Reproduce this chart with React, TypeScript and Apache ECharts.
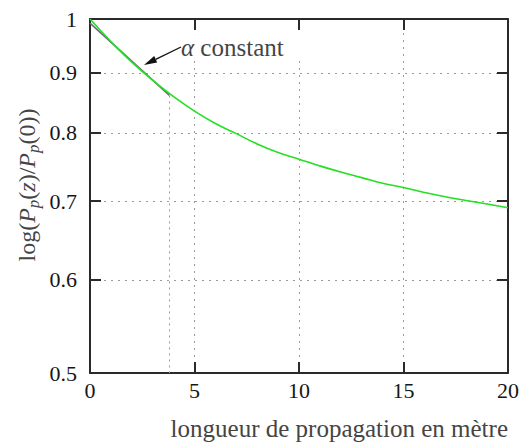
import React, { useEffect, useRef } from 'react';
import * as echarts from 'echarts';

// ---- data ----
const distance = [0, 1, 2, 3, 4, 5, 6, 7, 8, 9, 10, 11, 12, 13, 14, 15, 16, 17, 18, 19, 20];
const powerRatio = [1.0, 0.957, 0.919, 0.887, 0.859, 0.835, 0.815, 0.799, 0.783, 0.77, 0.76, 0.75, 0.741, 0.733, 0.725, 0.719, 0.712, 0.706, 0.701, 0.696, 0.691];
const alphaConstDistance = [0, 3.8];
const alphaConstRatio = [0.992, 0.861];
const yTickValues = [0.5, 0.6, 0.7, 0.8, 0.9, 1];
const xTickValues = [0, 5, 10, 15, 20];
const annotationLabel = '{a|α}{n| constant}';
const xAxisTitle = '{n|longueur de propagation en mètre}';
const yAxisTitle = '{n|log(}{i|P}{s|p}{n|(}{i|z}{n|)/}{i|P}{s|p}{n|(0))}';

const SERIF = 'Liberation Serif';
const FRAME = '#2a2a2a';
const GRID_DOT = '#9a9a9a';
const TEXT_GRAY = '#454545';

export default function App() {
  const ref = useRef<HTMLDivElement>(null);

  useEffect(() => {
    if (!ref.current) return;
    const chart = echarts.init(ref.current, null, { renderer: 'svg' });
    const lnTicks = yTickValues.map((v) => Math.log(v));
    const lnMin = Math.log(yTickValues[0]);
    const lnMax = Math.log(yTickValues[yTickValues.length - 1]);
    const fmtY = (v: number) => String(Math.round(Math.exp(v) * 10) / 10);

    const frameLine = { show: true, onZero: false, lineStyle: { color: FRAME, width: 2 } };
    const frameTick = { show: true, inside: true, length: 11, lineStyle: { color: FRAME, width: 2 } };
    const dotted = { show: true, lineStyle: { color: GRID_DOT, width: 1, type: [2, 5] } };
    const tickFont = { fontFamily: SERIF, fontSize: 22, color: '#161616' };
    const gray = { fontFamily: SERIF, fontSize: 25, fill: TEXT_GRAY };
    const grayY = { fontFamily: SERIF, fontSize: 24, fill: TEXT_GRAY };

    const option: any = {
      animation: false,
      backgroundColor: '#ffffff',
      textStyle: { fontFamily: SERIF },
      grid: { left: 90, top: 19, width: 418, height: 354, containLabel: false, outerBoundsMode: 'none' },
      xAxis: [
        {
          type: 'value', min: 0, max: 20, interval: 5, position: 'bottom',
          axisLine: frameLine,
          axisTick: { ...frameTick, customValues: xTickValues },
          axisLabel: { customValues: xTickValues, margin: 6, ...tickFont },
          splitLine: dotted,
        },
        {
          type: 'value', min: 0, max: 20, interval: 5, position: 'top',
          axisLine: frameLine,
          axisTick: { ...frameTick, customValues: xTickValues },
          axisLabel: { show: false },
          splitLine: { show: false },
        },
      ],
      yAxis: [
        { type: 'log', logBase: 10, min: yTickValues[0], max: yTickValues[yTickValues.length - 1], show: false, splitLine: { show: false } },
        {
          type: 'value', min: lnMin, max: lnMax, position: 'left',
          axisLine: frameLine,
          axisTick: { ...frameTick, customValues: lnTicks },
          axisLabel: { customValues: lnTicks, formatter: fmtY, margin: 13, ...tickFont },
          splitLine: dotted,
        },
        {
          type: 'value', min: lnMin, max: lnMax, position: 'right',
          axisLine: frameLine,
          axisTick: { ...frameTick, customValues: lnTicks },
          axisLabel: { show: false },
          splitLine: { show: false },
        },
      ],
      series: [
        {
          type: 'line', name: 'alpha constant', xAxisIndex: 0, yAxisIndex: 0,
          data: alphaConstDistance.map((x, i) => [x, alphaConstRatio[i]]),
          symbol: 'none', showSymbol: false,
          lineStyle: { color: '#6c6c76', width: 1.6 },
          z: 2, silent: true,
          markLine: {
            silent: true, symbol: ['none', 'none'], label: { show: false },
            lineStyle: { color: GRID_DOT, width: 1, type: [2, 4] },
            data: [[
              { coord: [alphaConstDistance[1], alphaConstRatio[1]] },
              { coord: [alphaConstDistance[1], yTickValues[0]] },
            ]],
          },
        },
        {
          type: 'line', name: 'P(z)/P(0)', xAxisIndex: 0, yAxisIndex: 0,
          data: distance.map((x, i) => [x, powerRatio[i]]),
          smooth: true, symbol: 'none', showSymbol: false,
          lineStyle: { color: '#22e022', width: 1.6 },
          z: 3, silent: true,
        },
      ],
      graphic: [
        { type: 'rect', shape: { x: 184, y: 31, width: 122, height: 30 }, style: { fill: '#ffffff' }, z: 5, silent: true },
        { type: 'line', shape: { x1: 181, y1: 47, x2: 155.7, y2: 59.3 }, style: { stroke: '#111111', lineWidth: 1.3 }, z: 6, silent: true },
        { type: 'polygon', shape: { points: [[144, 65], [157.2, 62.5], [154.2, 56.1]] }, style: { fill: '#111111' }, z: 6, silent: true },
        {
          type: 'text', x: 181, y: 47.5, z: 6, silent: true,
          style: {
            text: annotationLabel, align: 'left', verticalAlign: 'middle', ...gray,
            rich: { a: { ...gray, fontStyle: 'italic' }, n: { ...gray } },
          },
        },
        {
          type: 'text', x: 508, y: 428, z: 6, silent: true,
          style: { text: xAxisTitle, align: 'right', verticalAlign: 'middle', ...gray, rich: { n: { ...gray } } },
        },
        {
          type: 'text', x: 27, y: 185, rotation: Math.PI / 2, z: 6, silent: true,
          style: {
            text: yAxisTitle, align: 'center', verticalAlign: 'middle', ...grayY,
            rich: {
              n: { ...grayY },
              i: { ...grayY, fontStyle: 'italic' },
              s: { ...grayY, fontSize: 17, fontStyle: 'italic', verticalAlign: 'bottom', lineHeight: 30 },
            },
          },
        },
      ],
    };

    chart.setOption(option);
    return () => chart.dispose();
  }, []);

  return <div ref={ref} style={{ position: 'fixed', left: 0, top: 0, width: 520, height: 444 }} />;
}
